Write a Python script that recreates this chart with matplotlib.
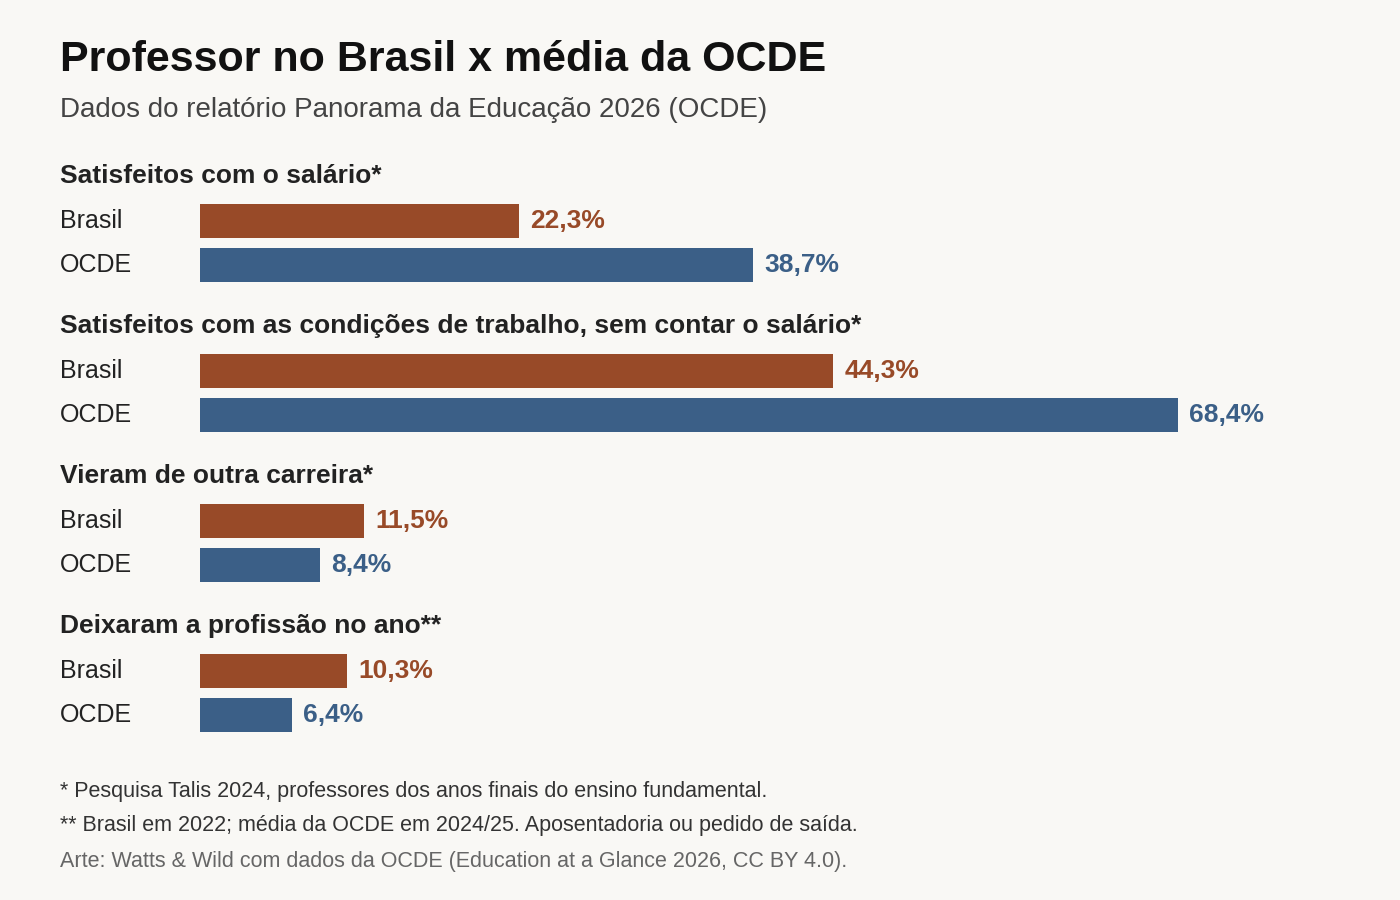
import matplotlib
matplotlib.use("Agg")
import matplotlib.pyplot as plt

sections = ["Satisfeitos com o salário*",
            "Satisfeitos com as condições de trabalho, sem contar o salário*",
            "Vieram de outra carreira*",
            "Deixaram a profissão no ano**"]
brasil = [22.3, 44.3, 11.5, 10.3]
ocde = [38.7, 68.4, 8.4, 6.4]
series_labels = ["Brasil", "OCDE"]
colors = ["#984a28", "#3b5f87"]

plt.rcParams['font.family'] = ['Liberation Sans', 'DejaVu Sans']
W, H = 1400, 900
fig = plt.figure(figsize=(14, 9), dpi=100, facecolor="#f9f8f5")
ax = fig.add_axes([0, 0, 1, 1])
ax.set_facecolor("#f9f8f5")
scale = 14.3  # px per percent
ax.set_xlim(-200 / scale, (W - 200) / scale)
ax.set_ylim(H, 0)
ax.axis("off")
x_lab = -140 / scale

fig.text(60 / W, 1 - 60 / H, "Professor no Brasil x média da OCDE", fontsize=31,
         fontweight="bold", color="#111111", va="center")
fig.text(60 / W, 1 - 110 / H, "Dados do relatório Panorama da Educação 2026 (OCDE)",
         fontsize=20, color="#444444", va="center")

for i, sec in enumerate(sections):
    y0 = 176 + 150 * i
    ax.text(x_lab, y0, sec, fontsize=19, fontweight="bold", color="#222222", va="center")
    for j, vals in enumerate([brasil, ocde]):
        yc = y0 + 45 + 44 * j
        v = vals[i]
        ax.barh(yc, v, height=34, left=0, color=colors[j])
        ax.text(x_lab, yc, series_labels[j], fontsize=18, color="#222222", va="center")
        ax.text(v + 11 / scale, yc, f"{v:.1f}%".replace(".", ","), fontsize=19,
                fontweight="bold", color=colors[j], va="center")

fig.text(60 / W, 1 - 792 / H, "* Pesquisa Talis 2024, professores dos anos finais do ensino fundamental.",
         fontsize=15.5, color="#333333", va="center")
fig.text(60 / W, 1 - 825 / H, "** Brasil em 2022; média da OCDE em 2024/25. Aposentadoria ou pedido de saída.",
         fontsize=15.5, color="#333333", va="center")
fig.text(60 / W, 1 - 862 / H, "Arte: Watts & Wild com dados da OCDE (Education at a Glance 2026, CC BY 4.0).",
         fontsize=15.5, color="#666666", va="center")

fig.savefig("out.png", dpi=100, facecolor=fig.get_facecolor())
